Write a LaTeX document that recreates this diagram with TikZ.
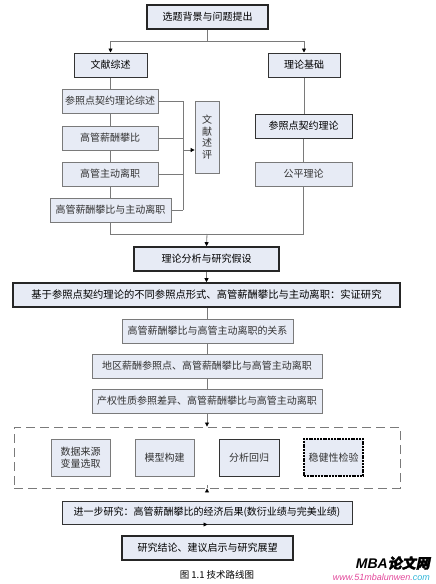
\documentclass[tikz,border=0pt]{standalone}
\usepackage{fontspec}
\setmainfont{Noto Sans CJK SC}
\newfontfamily\wmfont{Liberation Sans}
\usetikzlibrary{arrows.meta,calc}
\definecolor{boxfill}{HTML}{E7EBF5}
\definecolor{lgray}{HTML}{7A7A7A}
\definecolor{wmpink}{HTML}{E2479A}
\definecolor{wmcyan}{HTML}{2FB5D8}
\tikzset{
  base/.style={fill=boxfill, inner sep=0pt, font=\fontsize{10}{11.5}\selectfont, text=black!80, minimum height=24pt, align=center},
  thinbox/.style={base, draw=lgray, line width=0.8pt},
  midbox/.style={base, draw=black!80, line width=1.0pt, text=black},
  thickbox/.style={base, draw=black!85, line width=1.6pt, text=black},
  conn/.style={draw=lgray, line width=0.8pt},
  arr/.style={conn, -{Triangle[length=4pt,width=4pt,fill=black,color=black]}},
}
\begin{document}
\begin{tikzpicture}[x=1pt,y=-1pt]
\useasboundingbox (0,0) rectangle (436,584);
% top
\node[thickbox, minimum width=121pt] (top) at (207.5,17) {选题背景与问题提出};
\node[midbox, minimum width=73pt] (wx) at (110.5,65) {文献综述};
\node[midbox, minimum width=72pt] (ll) at (304,65) {理论基础};
% left column
\node[thinbox, minimum width=96pt] (a1) at (110,101) {参照点契约理论综述};
\node[thinbox, minimum width=96pt] (a2) at (110,138) {高管薪酬攀比};
\node[thinbox, minimum width=96pt] (a3) at (110,174) {高管主动离职};
\node[thinbox, minimum width=121pt] (a4) at (110.5,210) {高管薪酬攀比与主动离职};
\node[thinbox, minimum width=24pt, minimum height=72pt, text width=12pt, font=\fontsize{10}{11.5}\selectfont] (ps) at (207,137) {文\\献\\述\\评};
% right column
\node[midbox, minimum width=97pt] (b1) at (303.5,126) {参照点契约理论};
\node[thinbox, minimum width=97pt] (b2) at (303.5,174) {公平理论};
% middle
\node[thickbox, minimum width=145pt] (th) at (206.5,259) {理论分析与研究假设};
\node[thickbox, minimum width=387pt, font=\fontsize{10.3}{11.5}\selectfont] (big) at (206.5,295) {基于参照点契约理论的不同参照点形式、高管薪酬攀比与主动离职：实证研究};
\node[thinbox, minimum width=171pt] (c1) at (207.5,331) {高管薪酬攀比与高管主动离职的关系};
\node[thinbox, minimum width=230pt] (c2) at (207,366) {地区薪酬参照点、高管薪酬攀比与高管主动离职};
\node[thinbox, minimum width=230pt] (c3) at (207,401) {产权性质参照差异、高管薪酬攀比与高管主动离职};
% dashed group
\node[draw=lgray, line width=0.9pt, dash pattern=on 9pt off 5pt, minimum width=386pt, minimum height=61pt, inner sep=0pt] (db) at (207,457.5) {};
\node[thinbox, minimum width=59pt, minimum height=37pt] (d1) at (80.5,457.5) {数据来源\\变量选取};
\node[thinbox, minimum width=59pt, minimum height=37pt] (d2) at (164.5,457.5) {模型构建};
\node[base, draw=black!80, line width=0.9pt, minimum width=60pt, minimum height=37pt] (d3) at (249,457.5) {分析回归};
\node[base, draw=black, line width=1.5pt, dash pattern=on 2pt off 0.8pt, minimum width=59pt, minimum height=37pt] (d4) at (333.5,457.5) {稳健性检验};
% bottom
\node[midbox, minimum width=290pt, minimum height=23pt] (e) at (207,512.5) {进一步研究：高管薪酬攀比的经济后果(数衍业绩与完美业绩)};
\node[thickbox, minimum width=171pt] (f) at (207.5,548) {研究结论、建议启示与研究展望};
% caption and watermark
\node[inner sep=0pt, font=\fontsize{9.5}{10}\selectfont] (cap) at (217,575) {图 1.1 技术路线图};
\node[inner sep=0pt, anchor=east, font=\wmfont\fontsize{14}{15}\selectfont\bfseries\itshape] (wm1) at (430,563) {MBA\fontspec{Noto Sans CJK SC}[FakeSlant=0.2,FakeBold=2]论文网};
\node[inner sep=0pt, anchor=east, font=\wmfont\fontsize{9}{10}\selectfont\itshape] (wm2) at (430,577.5) {\textcolor{wmpink}{www.51mbalunwen.}\textcolor{wmcyan}{com}};
% connectors top
\coordinate (j1) at (207.5,41);
\draw[conn] (top.south) -- (j1);
\draw[arr] (j1) -| (wx.north);
\draw[arr] (j1) -| (ll.north);
% left trunk
\draw[conn] (wx.south) -- (wx.south |- a1.north);
\draw[conn] (a1.south) -- (a2.north);
\draw[conn] (a2.south) -- (a3.north);
\draw[conn] (a3.south) -- (a3.south |- a4.north);
% right trunk
\draw[conn] (ll.south) -- (ll.south |- b1.north);
\draw[conn] (b1.south) -- (b2.north);
% merge
\coordinate (j2) at (207,234);
\draw[conn] (a4.south) |- (j2);
\draw[conn] (b2.south) |- (j2);
\draw[arr] (j2) -- (th.north);
% bracket
\coordinate (br1) at (183,101);
\coordinate (br4) at (183,210);
\coordinate (brm) at (183,150);
\draw[conn] (a1.east) -- (br1);
\draw[conn] (a2.east) -- (a2.east -| br1);
\draw[conn] (a3.east) -- (a3.east -| br1);
\draw[conn] (a4.east) -- (br4);
\draw[conn] (br1) -- (br4);
\draw[arr] (brm) -- (brm -| ps.west);
% middle chain
\draw[arr] (th.south) -- (th.south |- big.north);
\draw[conn] (big.south -| c1.north) -- (c1.north);
\draw[conn] (c1.south) -- (c1.south |- c2.north);
\draw[conn] (c2.south) -- (c3.north);
\draw[arr] (c3.south) -- (c3.south |- db.north);
\draw[arr] (db.south) -- (db.south -| e.north);
\draw[arr] (e.south) -- (e.south -| f.north);
\end{tikzpicture}
\end{document}
